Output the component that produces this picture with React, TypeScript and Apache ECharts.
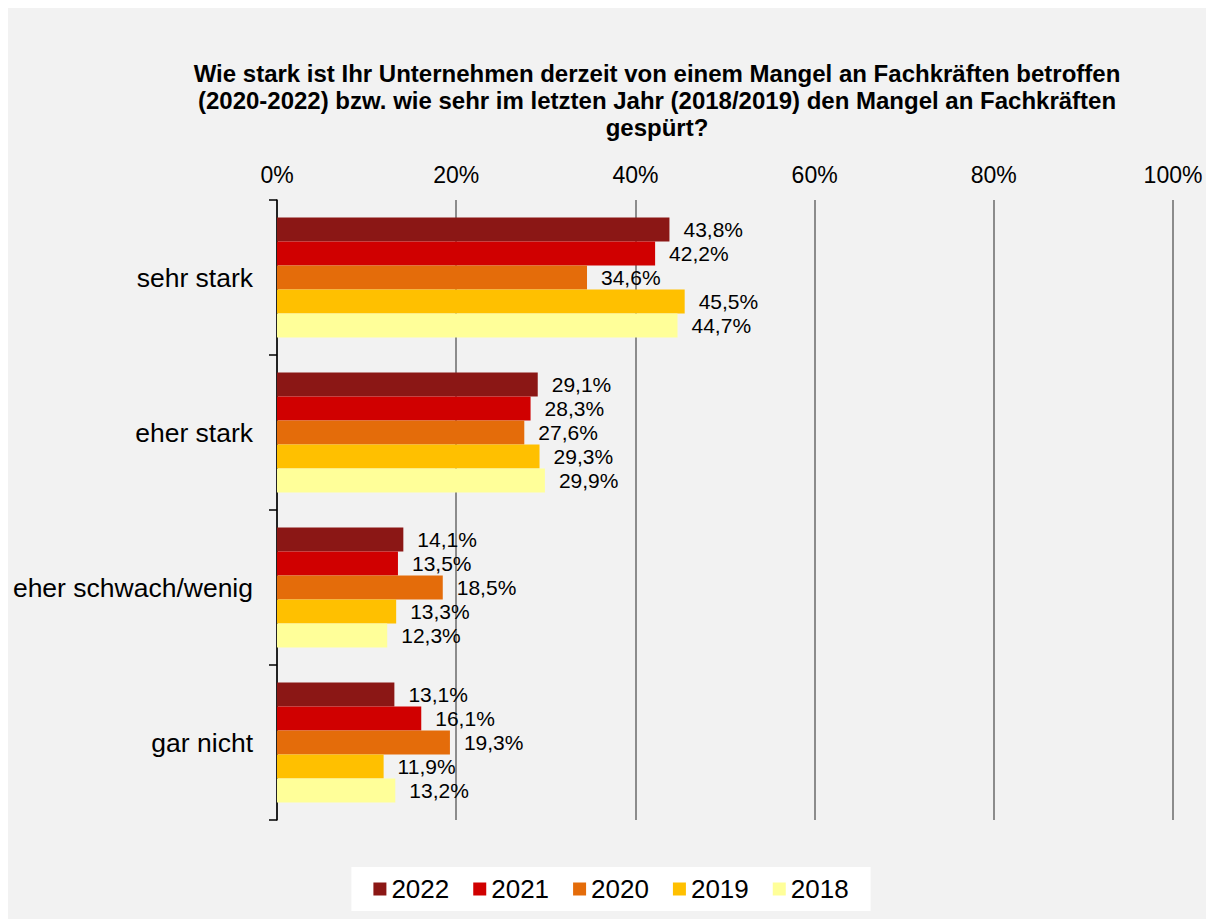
import React, { useEffect, useRef } from "react";
import * as echarts from "echarts";

const categories = ["sehr stark", "eher stark", "eher schwach/wenig", "gar nicht"];
const seriesNames = ["2022", "2021", "2020", "2019", "2018"];
const values2022 = [43.8, 29.1, 14.1, 13.1];
const values2021 = [42.2, 28.3, 13.5, 16.1];
const values2020 = [34.6, 27.6, 18.5, 19.3];
const values2019 = [45.5, 29.3, 13.3, 11.9];
const values2018 = [44.7, 29.9, 12.3, 13.2];
const colors = ["#8B1715", "#D00000", "#E46C0A", "#FFC000", "#FFFF99"];
const titleLines = [
  "Wie stark ist Ihr Unternehmen derzeit von einem Mangel an Fachkräften betroffen",
  "(2020-2022) bzw. wie sehr im letzten Jahr (2018/2019) den Mangel an Fachkräften",
  "gespürt?",
];

const FONT = "'Liberation Sans', Arial, sans-serif";

export default function App() {
  const ref = useRef<HTMLDivElement>(null);
  useEffect(() => {
    if (!ref.current) return;
    const chart = echarts.init(ref.current, undefined, { renderer: "svg" });
    const allValues = [values2022, values2021, values2020, values2019, values2018];
    chart.setOption({
      animation: false,
      backgroundColor: "#F2F2F2",
      textStyle: { fontFamily: FONT },
      title: {
        text: titleLines.join("\n"),
        left: 649,
        top: 52,
        padding: 0,
        textAlign: "center",
        textStyle: {
          fontFamily: FONT,
          fontSize: 24,
          fontWeight: "bold",
          color: "#000",
          lineHeight: 27,
        },
      },
      legend: {
        data: seriesNames,
        bottom: 8,
        left: "center",
        backgroundColor: "#FFFFFF",
        padding: [9, 22, 9, 22],
        itemWidth: 13,
        itemHeight: 13,
        itemGap: 24,
        icon: "rect",
        textStyle: { fontFamily: FONT, fontSize: 26, color: "#000" },
      },
      grid: { left: 269, right: 41, top: 192, bottom: 99, containLabel: false },
      xAxis: {
        type: "value",
        position: "top",
        min: 0,
        max: 100,
        interval: 20,
        axisLine: { show: false },
        axisTick: { show: false },
        axisLabel: {
          formatter: "{value}%",
          fontFamily: FONT,
          fontSize: 23,
          color: "#000",
          margin: 14,
        },
        splitLine: { show: true, lineStyle: { color: "#8C8C8C", width: 2 } },
      },
      yAxis: {
        type: "category",
        data: categories,
        inverse: true,
        axisLine: { show: true, lineStyle: { color: "#000", width: 1.5 } },
        axisTick: { show: true, length: 8, lineStyle: { color: "#000", width: 1.5 } },
        axisLabel: { fontFamily: FONT, fontSize: 26.5, color: "#000", margin: 24 },
      },
      series: seriesNames.map((name, i) => ({
        name,
        type: "bar",
        data: allValues[i],
        barGap: "0%",
        barCategoryGap: "22.6%",
        itemStyle: { color: colors[i] },
        label: {
          show: true,
          position: "right",
          distance: 14,
          fontFamily: FONT,
          fontSize: 21,
          color: "#000",
          formatter: (p: any) => p.value.toFixed(1).replace(".", ",") + "%",
        },
      })),
    });
    return () => chart.dispose();
  }, []);
  return <div ref={ref} style={{ width: 1206, height: 911 }} />;
}
